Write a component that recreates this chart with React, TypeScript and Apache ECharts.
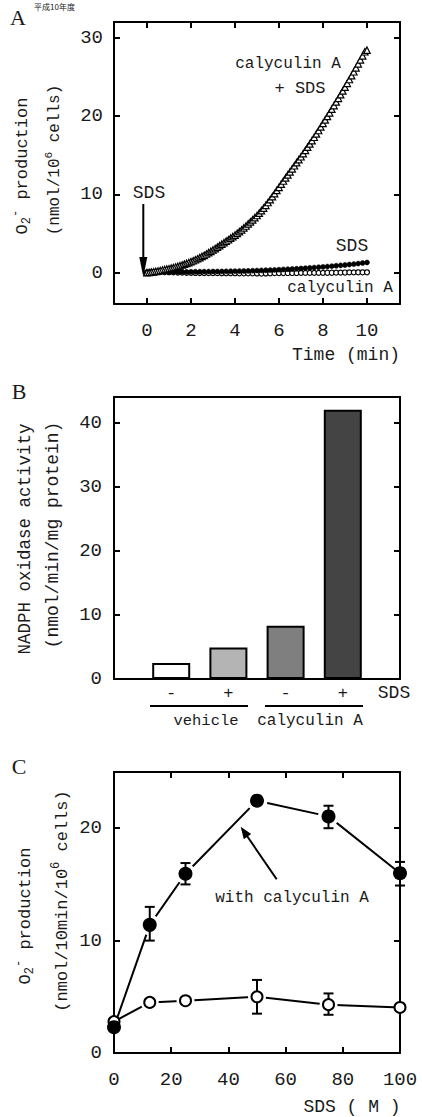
import React, { useEffect, useRef } from "react";
import * as echarts from "echarts";

// ---------- Panel A data ----------
const TIME_TRI = [
  0, 0.1, 0.2, 0.3, 0.4, 0.5, 0.6, 0.7, 0.8, 0.9,
  1, 1.1, 1.2, 1.3, 1.4, 1.5, 1.6, 1.7, 1.8, 1.9,
  2, 2.1, 2.2, 2.3, 2.4, 2.5, 2.6, 2.7, 2.8, 2.9,
  3, 3.1, 3.2, 3.3, 3.4, 3.5, 3.6, 3.7, 3.8, 3.9,
  4, 4.1, 4.2, 4.3, 4.4, 4.5, 4.6, 4.7, 4.8, 4.9,
  5, 5.1, 5.2, 5.3, 5.4, 5.5, 5.6, 5.7, 5.8, 5.9,
  6, 6.1, 6.2, 6.3, 6.4, 6.5, 6.6, 6.7, 6.8, 6.9,
  7, 7.1, 7.2, 7.3, 7.4, 7.5, 7.6, 7.7, 7.8, 7.9,
  8, 8.1, 8.2, 8.3, 8.4, 8.5, 8.6, 8.7, 8.8, 8.9,
  9, 9.1, 9.2, 9.3, 9.4, 9.5, 9.6, 9.7, 9.8, 9.9,
  10,
];
const CALY_SDS = [
  0, 0.03, 0.07, 0.11, 0.16, 0.21, 0.27, 0.33, 0.39, 0.45,
  0.5, 0.57, 0.64, 0.72, 0.8, 0.89, 0.98, 1.08, 1.18, 1.29,
  1.4, 1.52, 1.65, 1.78, 1.92, 2.07, 2.22, 2.38, 2.55, 2.72,
  2.9, 3.08, 3.26, 3.45, 3.64, 3.83, 4.02, 4.2, 4.4, 4.6,
  4.8, 5.02, 5.24, 5.47, 5.71, 5.96, 6.22, 6.48, 6.75, 7.02,
  7.3, 7.6, 7.92, 8.25, 8.6, 8.96, 9.33, 9.71, 10.1, 10.5,
  10.9, 11.3, 11.7, 12.09, 12.48, 12.87, 13.26, 13.65, 14.04, 14.42,
  14.8, 15.2, 15.61, 16.02, 16.44, 16.86, 17.29, 17.72, 18.15, 18.6,
  19.05, 19.5, 19.95, 20.41, 20.87, 21.33, 21.8, 22.26, 22.73, 23.2,
  23.68, 24.17, 24.66, 25.15, 25.65, 26.15, 26.66, 27.17, 27.68, 28.2,
  28.4,
];
const TIME_FLAT = [
  0, 0.2, 0.4, 0.6, 0.8, 1, 1.2, 1.4, 1.6, 1.8,
  2, 2.2, 2.4, 2.6, 2.8, 3, 3.2, 3.4, 3.6, 3.8,
  4, 4.2, 4.4, 4.6, 4.8, 5, 5.2, 5.4, 5.6, 5.8,
  6, 6.2, 6.4, 6.6, 6.8, 7, 7.2, 7.4, 7.6, 7.8,
  8, 8.2, 8.4, 8.6, 8.8, 9, 9.2, 9.4, 9.6, 9.8,
  10,
];
const SDS_ONLY = [
  0, 0.02, 0.03, 0.05, 0.06, 0.07, 0.08, 0.09, 0.1, 0.1,
  0.11, 0.12, 0.12, 0.13, 0.14, 0.15, 0.15, 0.16, 0.17, 0.18,
  0.19, 0.2, 0.21, 0.23, 0.25, 0.27, 0.29, 0.31, 0.33, 0.35,
  0.38, 0.41, 0.44, 0.47, 0.5, 0.53, 0.57, 0.61, 0.65, 0.69,
  0.73, 0.78, 0.83, 0.88, 0.93, 0.98, 1.04, 1.1, 1.16, 1.23,
  1.3,
];
const CALY_ONLY = [
  0.05, 0.1, 0.12, 0.1, 0.08, 0.06, 0.04, 0.02, 0.0, -0.02,
  -0.03, -0.04, -0.05, -0.05, -0.06, -0.06, -0.06, -0.07, -0.07, -0.07,
  -0.07, -0.08, -0.08, -0.08, -0.09, -0.1, -0.12, -0.1, -0.08, -0.06,
  -0.05, -0.05, -0.04, -0.04, -0.04, -0.03, -0.03, -0.03, -0.02, -0.02,
  -0.02, -0.01, -0.01, 0.0, 0.01, 0.02, 0.03, 0.04, 0.05, 0.05,
  0.05,
];
const A_X_TICKS = [0, 2, 4, 6, 8, 10];
const A_Y_TICKS = [0, 10, 20, 30];

// ---------- Panel B data ----------
const B_POS = [1, 2, 3, 4];
const B_SIGNS = ["-", "+", "-", "+"];
const B_VALUES = [2.5, 4.9, 8.3, 42.0];
const B_COLORS = ["#ffffff", "#b4b4b4", "#7f7f7f", "#444444"];
const B_Y_TICKS = [10, 20, 30, 40];
const B_Y_LABELS = [0, 10, 20, 30, 40];

// ---------- Panel C data ----------
const C_SDS = [0, 12.5, 25, 50, 75, 100];
const C_WITH = [2.3, 11.4, 15.95, 22.45, 21.05, 16.0];
const C_WITH_LOW = [null, 10.0, 15.0, null, 20.0, 14.9];
const C_WITH_HIGH = [null, 13.0, 16.9, null, 22.0, 17.0];
const C_VEH = [2.8, 4.5, 4.65, 5.0, 4.3, 4.05];
const C_VEH_LOW = [null, null, null, 3.5, 3.4, null];
const C_VEH_HIGH = [null, null, null, 6.5, 5.3, null];
const C_X_TICKS = [20, 40, 60, 80];
const C_X_LABELS = [0, 20, 40, 60, 80, 100];
const C_Y_TICKS = [10, 20];
const C_Y_LABELS = [0, 10, 20];

const FONT = '"Liberation Mono", "DejaVu Sans Mono", monospace';
const TXT = "#1a1a1a";

function axisBase(extra: any) {
  return {
    type: "value",
    splitLine: { show: false },
    axisLine: { show: true, onZero: false, lineStyle: { color: "#000", width: 2 } },
    ...extra,
  };
}
function ticks(values: number[] | null) {
  if (!values) return { show: false };
  return { show: true, inside: true, length: 6, lineStyle: { color: "#000", width: 2 }, customValues: values };
}
function labels(values: number[] | null, margin: number, extra: any = {}) {
  if (!values) return { show: false };
  return { show: true, customValues: values, margin, fontSize: 19, fontFamily: FONT, color: TXT, ...extra };
}

function txt(text: string, x: number, y: number, fontSize: number, extra: any = {}) {
  return {
    type: "text",
    x,
    y,
    silent: true,
    style: { text, fontSize, fontFamily: FONT, fill: TXT, align: "center", verticalAlign: "middle", ...extra },
  };
}
function vtxt(text: string, x: number, y: number, fontSize: number, rich?: any) {
  return {
    type: "text",
    x,
    y,
    rotation: Math.PI / 2,
    silent: true,
    style: { text, fontSize, fontFamily: FONT, fill: TXT, align: "center", verticalAlign: "middle", rich },
  };
}
function seg(x1: number, y1: number, x2: number, y2: number) {
  return { type: "line", silent: true, shape: { x1, y1, x2, y2 }, style: { stroke: "#000", lineWidth: 2 } };
}

function errData(lo: (number | null)[], hi: (number | null)[]) {
  const out: number[][] = [];
  C_SDS.forEach((x, i) => {
    if (lo[i] != null && hi[i] != null) out.push([x, lo[i] as number, hi[i] as number]);
  });
  return out;
}

const errRender = (params: any, api: any) => {
  const x = api.value(0);
  const p1 = api.coord([x, api.value(1)]);
  const p2 = api.coord([x, api.value(2)]);
  const w = 5;
  const st = { stroke: "#000", lineWidth: 2 };
  return {
    type: "group",
    children: [
      { type: "line", shape: { x1: p1[0], y1: p1[1], x2: p2[0], y2: p2[1] }, style: st },
      { type: "line", shape: { x1: p1[0] - w, y1: p1[1], x2: p1[0] + w, y2: p1[1] }, style: st },
      { type: "line", shape: { x1: p2[0] - w, y1: p2[1], x2: p2[0] + w, y2: p2[1] }, style: st },
    ],
  };
};

function buildOption() {
  const withPts = C_SDS.map((x, i) => [x, C_WITH[i]]);
  const vehPts = C_SDS.map((x, i) => [x, C_VEH[i]]);
  const subRich = (fs: number) => ({
    sub: { fontSize: fs - 5, fontFamily: FONT, fill: TXT, padding: [10, 0, 0, 0] },
    sup: { fontSize: fs - 5, fontFamily: FONT, fill: TXT, padding: [0, 0, 12, 0] },
  });

  return {
    animation: false,
    backgroundColor: "#fff",
    grid: [
      { left: 114, top: 22, width: 286, height: 282 },
      { left: 114, top: 397, width: 286, height: 282 },
      { left: 114, top: 772, width: 286, height: 281 },
    ],
    xAxis: [
      axisBase({ gridIndex: 0, position: "bottom", min: -1.5, max: 11.5, axisTick: ticks(A_X_TICKS), axisLabel: labels(A_X_TICKS, 17) }),
      axisBase({ gridIndex: 0, position: "top", min: -1.5, max: 11.5, axisTick: ticks(A_X_TICKS), axisLabel: { show: false } }),
      axisBase({
        gridIndex: 1, position: "bottom", min: 0, max: 5, axisTick: { show: false },
        axisLabel: labels(B_POS, 6, { fontSize: 17, formatter: (v: number) => B_SIGNS[B_POS.indexOf(v)] ?? "" }),
      }),
      axisBase({ gridIndex: 1, position: "top", min: 0, max: 5, axisTick: { show: false }, axisLabel: { show: false } }),
      axisBase({ gridIndex: 2, position: "bottom", min: 0, max: 100, axisTick: ticks(C_X_TICKS), axisLabel: labels(C_X_LABELS, 17) }),
      axisBase({ gridIndex: 2, position: "top", min: 0, max: 100, axisTick: ticks(C_X_TICKS), axisLabel: { show: false } }),
    ],
    yAxis: [
      axisBase({ gridIndex: 0, position: "left", min: -4, max: 32, axisTick: ticks(A_Y_TICKS), axisLabel: labels(A_Y_TICKS, 11) }),
      axisBase({ gridIndex: 0, position: "right", min: -4, max: 32, axisTick: ticks(A_Y_TICKS), axisLabel: { show: false } }),
      axisBase({ gridIndex: 1, position: "left", min: 0, max: 44, axisTick: ticks(B_Y_TICKS), axisLabel: labels(B_Y_LABELS, 12) }),
      axisBase({ gridIndex: 1, position: "right", min: 0, max: 44, axisTick: ticks(B_Y_TICKS), axisLabel: { show: false } }),
      axisBase({ gridIndex: 2, position: "left", min: 0, max: 25, axisTick: ticks(C_Y_TICKS), axisLabel: labels(C_Y_LABELS, 12) }),
      axisBase({ gridIndex: 2, position: "right", min: 0, max: 25, axisTick: ticks(C_Y_TICKS), axisLabel: { show: false } }),
    ],
    series: [
      // Panel A
      {
        name: "calyculin A", type: "scatter", xAxisIndex: 0, yAxisIndex: 0, clip: false,
        symbol: "circle", symbolSize: 5,
        itemStyle: { color: "#fff", borderColor: "#000", borderWidth: 1.2, opacity: 1 },
        data: TIME_FLAT.map((t, i) => [t, CALY_ONLY[i]]),
      },
      {
        name: "SDS", type: "scatter", xAxisIndex: 0, yAxisIndex: 0, clip: false,
        symbol: "circle", symbolSize: 5,
        itemStyle: { color: "#000", borderColor: "#000", borderWidth: 0.5, opacity: 1 },
        data: TIME_FLAT.map((t, i) => [t, SDS_ONLY[i]]),
      },
      {
        name: "calyculin A + SDS", type: "scatter", xAxisIndex: 0, yAxisIndex: 0, clip: false,
        symbol: "triangle", symbolSize: 6.5,
        itemStyle: { color: "#fff", borderColor: "#000", borderWidth: 1.2, opacity: 1 },
        data: TIME_TRI.map((t, i) => [t, CALY_SDS[i]]),
      },
      // Panel B
      {
        name: "NADPH oxidase activity", type: "bar", xAxisIndex: 2, yAxisIndex: 2, barWidth: 38,
        itemStyle: { borderColor: "#000", borderWidth: 2 },
        data: B_POS.map((x, i) => ({ value: [x, B_VALUES[i]], itemStyle: { color: B_COLORS[i] } })),
      },
      // Panel C
      {
        name: "with calyculin A line", type: "line", xAxisIndex: 4, yAxisIndex: 4, showSymbol: false,
        lineStyle: { color: "#000", width: 2 }, data: withPts, z: 2,
      },
      {
        name: "vehicle line", type: "line", xAxisIndex: 4, yAxisIndex: 4, showSymbol: false,
        lineStyle: { color: "#000", width: 2 }, data: vehPts, z: 2,
      },
      {
        name: "halo with", type: "scatter", xAxisIndex: 4, yAxisIndex: 4, symbolSize: 21, z: 3, silent: true,
        itemStyle: { color: "#fff", opacity: 1 }, data: withPts.slice(1, 5),
      },
      {
        name: "halo veh", type: "scatter", xAxisIndex: 4, yAxisIndex: 4, symbolSize: 18, z: 3, silent: true,
        itemStyle: { color: "#fff", opacity: 1 }, data: vehPts.slice(1, 5),
      },
      {
        name: "err with", type: "custom", xAxisIndex: 4, yAxisIndex: 4, z: 4, renderItem: errRender,
        encode: { x: 0, y: [1, 2] }, data: errData(C_WITH_LOW, C_WITH_HIGH),
      },
      {
        name: "err veh", type: "custom", xAxisIndex: 4, yAxisIndex: 4, z: 4, renderItem: errRender,
        encode: { x: 0, y: [1, 2] }, data: errData(C_VEH_LOW, C_VEH_HIGH),
      },
      {
        name: "vehicle", type: "scatter", xAxisIndex: 4, yAxisIndex: 4, clip: false, z: 5,
        symbol: "circle", symbolSize: 11,
        itemStyle: { color: "#fff", borderColor: "#000", borderWidth: 2, opacity: 1 }, data: vehPts,
      },
      {
        name: "with calyculin A", type: "scatter", xAxisIndex: 4, yAxisIndex: 4, clip: false, z: 6,
        symbol: "circle", symbolSize: 14,
        itemStyle: { color: "#000", opacity: 1 }, data: withPts,
      },
    ],
    graphic: [
      { type: "text", x: 34, y: 2, silent: true, style: { text: "平成10年度", fontSize: 8, lineHeight: 9, fontFamily: '"Noto Sans CJK JP"', fill: TXT, align: "left", verticalAlign: "top" } },
      // panel letters
      txt("A", 18, 17, 22, { fontFamily: '"Liberation Serif", serif' }),
      txt("B", 19, 391, 22, { fontFamily: '"Liberation Serif", serif' }),
      txt("C", 19, 766, 22, { fontFamily: '"Liberation Serif", serif' }),
      // panel A
      vtxt("{t|O}{sub|2}{sup|-}{t| production}", 22, 166, 17, { t: { fontSize: 17, fontFamily: FONT, fill: TXT }, ...subRich(17) }),
      vtxt("{t|(nmol/10}{sup|6}{t| cells)}", 55, 160, 16, { t: { fontSize: 16, fontFamily: FONT, fill: TXT }, ...subRich(16) }),
      txt("Time (min)", 346, 355, 18),
      txt("calyculin A", 288, 64, 16),
      txt("+ SDS", 300, 88, 17),
      txt("SDS", 352, 246, 18),
      txt("calyculin A", 340, 288, 16),
      txt("SDS", 149, 193, 18),
      seg(143.3, 204, 143.3, 262),
      { type: "polygon", silent: true, shape: { points: [[139.3, 257], [147.3, 257], [143.3, 277]] }, style: { fill: "#000" } },
      // panel B
      vtxt("NADPH oxidase activity", 25, 539, 17.5),
      vtxt("(nmol/min/mg protein)", 53, 535, 18),
      txt("SDS", 394, 693, 18),
      seg(150, 706, 248, 706),
      seg(265, 706, 363, 706),
      txt("vehicle", 206, 721, 15.5),
      txt("calyculin A", 310, 721, 16),
      // panel C
      vtxt("{t|O}{sub|2}{sup|-}{t| production}", 25, 916, 17, { t: { fontSize: 17, fontFamily: FONT, fill: TXT }, ...subRich(17) }),
      vtxt("{t|(nmol/10min/10}{sup|6}{t| cells)}", 62, 901, 17, { t: { fontSize: 17, fontFamily: FONT, fill: TXT }, ...subRich(17) }),
      txt("with calyculin A", 292, 898, 16),
      txt("SDS ( M )", 352, 1107, 18),
      seg(276.7, 879.3, 246.5, 835.2),
      { type: "polygon", silent: true, shape: { points: [[240.7, 826.7], [251.2, 834.0], [243.8, 839.2]] }, style: { fill: "#000" } },
    ],
  };
}

export default function App() {
  const ref = useRef<HTMLDivElement>(null);
  useEffect(() => {
    if (!ref.current) return;
    const chart = echarts.init(ref.current, null, { renderer: "svg" });
    chart.setOption(buildOption() as any);
    return () => chart.dispose();
  }, []);
  return (
    <div
      ref={ref}
      style={{ position: "absolute", left: 0, top: 0, width: 422, height: 1117, background: "#fff" }}
    />
  );
}
